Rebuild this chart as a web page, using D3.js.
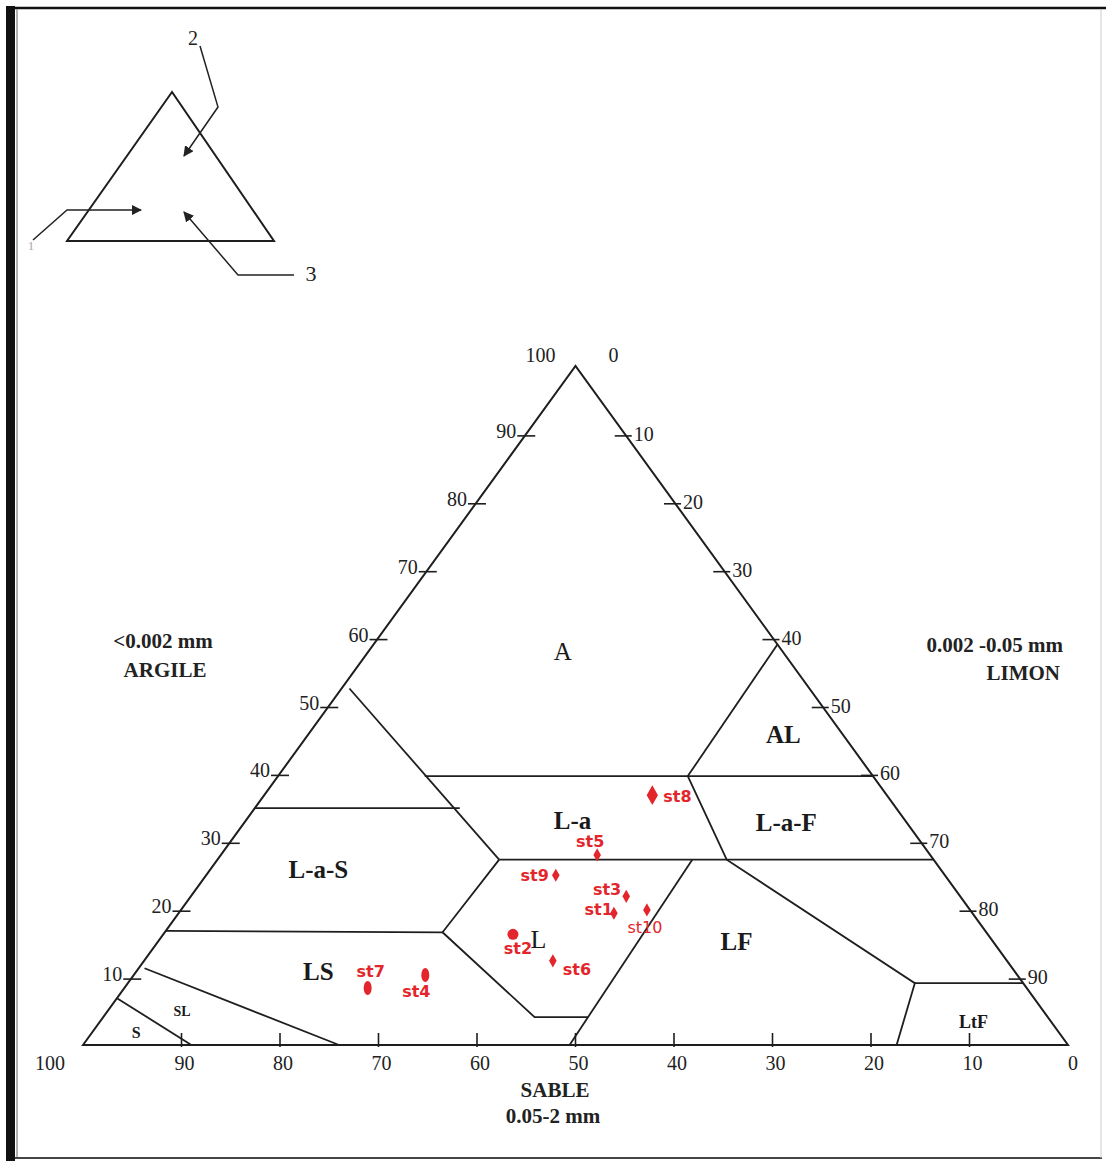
<!DOCTYPE html>
<html>
<head>
<meta charset="UTF-8">
<title>Triangle des textures</title>
<style>
  body { margin: 0; background: #fff; }
  svg { display: block; }
  .edge { fill: none; stroke: #1e1e1e; stroke-width: 2px; }
  .zone { fill: none; stroke: #1e1e1e; stroke-width: 1.8px; }
  .tick { stroke: #1e1e1e; stroke-width: 1.6px; }
  .tlabel { font-family: "Liberation Serif", "Times New Roman", serif; font-size: 20px; fill: #222; }
  .title { font-family: "Liberation Serif", "Times New Roman", serif; font-size: 21px; font-weight: bold; fill: #222; }
  .rlabel { font-family: "Liberation Serif", "Times New Roman", serif; font-weight: bold; fill: #1a1a1a; }
  .st { font-family: "DejaVu Sans", sans-serif; font-size: 16px; font-weight: bold; fill: #e3262c; }
</style>
</head>
<body>
<svg width="1106" height="1163"></svg>
<script src="https://cdn.jsdelivr.net/npm/d3@7"></script>
<script>
// ---- data ----
var tickValues = [10, 20, 30, 40, 50, 60, 70, 80, 90];
var sandTicks = [100, 90, 80, 70, 60, 50, 40, 30, 20, 10, 0];

// sample stations: clay (argile), silt (limon), sand (sable), in %
var stations = ['st1', 'st2', 'st3', 'st4', 'st5', 'st6', 'st7', 'st8', 'st9', 'st10'];
var stClay = [19.4, 16.3, 21.9, 10.3, 28.0, 12.4, 8.4, 36.8, 25.0, 19.9];
var stSilt = [44.2, 35.5, 44.2, 29.6, 38.2, 41.5, 24.7, 39.4, 35.5, 47.3];
var stSand = [36.4, 48.2, 33.9, 60.1, 33.8, 46.1, 66.9, 23.8, 39.5, 32.8];

// texture class boundaries, as [clay, silt] vertices
var zoneLines = [
  [[52.5, 0.8], [27.3, 28.6]],                          // A / L-a-S diagonal
  [[39.6, 14.9], [39.6, 60.4]],                         // top of L-a, L-a-F
  [[34.9, 0], [34.9, 20.8]],                            // top of L-a-S
  [[27.3, 28.6], [27.3, 72.7]],                         // top of L, LF
  [[27.3, 28.6], [16.6, 28.2], [4.1, 43.8], [4.1, 49.2]], // left/bottom of L
  [[16.8, 0], [16.6, 28.2]],                            // top of LS
  [[0, 49.4], [27.3, 48.2]],                            // L / LF
  [[11.3, 0.6], [0, 26]],                               // LS / SL
  [[6.9, 0], [0, 11]],                                  // SL / S
  [[39.6, 41.6], [59, 41]],                             // A / AL
  [[39.6, 41.6], [27.3, 51.7], [9.1, 79.9], [0, 82.6]], // L-a / L-a-F, LF / LtF
  [[9.1, 79.9], [9.1, 90.9]]                            // top of LtF
];

var zoneNames = ['A', 'AL', 'L-a', 'L-a-F', 'L-a-S', 'L', 'LF', 'LS', 'SL', 'S', 'LtF'];
var zoneClay  = [58.0, 45.8, 33.0, 32.8, 25.8, 15.5, 15.3, 10.8, 4.9, 1.8, 3.4];
var zoneSilt  = [19.7, 48.2, 33.2, 55.0, 11.0, 38.5, 58.7, 18.5, 7.6, 4.5, 88.7];

// ---- layout ----
var svg = d3.select('svg');
var baseY = 1045, apexY = 366, leftX = 83, rightX = 1068;
var yClay = d3.scaleLinear().domain([0, 100]).range([baseY, apexY]);
var xSpan = d3.scaleLinear().domain([0, 100]).range([leftX, rightX]);

function px(clay, silt) { return [xSpan(silt + clay / 2), yClay(clay)]; }

var zoneStyle = {
  'A': { size: 25, weight: 'normal' }, 'AL': { size: 25 }, 'L-a': { size: 25 },
  'L-a-F': { size: 25 }, 'L-a-S': { size: 25 }, 'L': { size: 26, weight: 'normal' },
  'LF': { size: 25 }, 'LS': { size: 25 }, 'SL': { size: 14 }, 'S': { size: 16 }, 'LtF': { size: 18 }
};

// label placement for stations: [dx, dy, anchor, weight]
var stLabel = {
  st1: [-1, 2, 'end', 'bold'], st2: [5, 20, 'middle', 'bold'], st3: [-5, -1, 'end', 'bold'],
  st4: [-9, 22, 'middle', 'bold'], st5: [-7, -8, 'middle', 'bold'], st6: [10, 14, 'start', 'bold'],
  st7: [3, -11, 'middle', 'bold'], st8: [11, 7, 'start', 'bold'], st9: [-7, 6, 'end', 'bold'],
  st10: [-2, 23, 'middle', 'normal']
};

// ---- frame ----
svg.append('rect').attr('x', 6).attr('y', 6).attr('width', 9).attr('height', 1155).attr('fill', '#111');
svg.append('line').attr('x1', 6).attr('x2', 1106).attr('y1', 8).attr('y2', 8).attr('stroke', '#111').attr('stroke-width', 2.5);
svg.append('line').attr('x1', 17).attr('x2', 17).attr('y1', 9).attr('y2', 1158).attr('stroke', '#999').attr('stroke-width', 1.5);
svg.append('line').attr('x1', 15).attr('x2', 1102).attr('y1', 1158).attr('y2', 1158).attr('stroke', '#444').attr('stroke-width', 2);
svg.append('line').attr('x1', 1101).attr('x2', 1101).attr('y1', 9).attr('y2', 1158).attr('stroke', '#ccc').attr('stroke-width', 1);

// ---- inset key ----
var defs = svg.append('defs');
defs.append('marker').attr('id', 'head').attr('viewBox', '0 0 10 10').attr('refX', 9).attr('refY', 5)
  .attr('markerWidth', 7).attr('markerHeight', 7).attr('orient', 'auto-start-reverse')
  .append('path').attr('d', 'M0,0 L10,5 L0,10 z').attr('fill', '#222');

var inset = svg.append('g');
inset.append('path').attr('d', 'M172,92 L67,241 L274,241 Z').attr('class', 'edge');
var line = d3.line();
[[[200, 46], [218, 107], [184, 156]],
 [[33, 240], [67, 210], [141, 210]],
 [[294, 275], [238, 275], [184, 212]]].forEach(function (p) {
  inset.append('path').attr('d', line(p)).attr('fill', 'none').attr('stroke', '#222')
    .attr('stroke-width', 1.5).attr('marker-end', 'url(#head)');
});
inset.append('text').attr('class', 'tlabel').attr('x', 193).attr('y', 45).attr('text-anchor', 'middle').text('2');
inset.append('text').attr('class', 'tlabel').attr('x', 311).attr('y', 281).attr('text-anchor', 'middle').style('font-size', '22px').text('3');
inset.append('text').attr('class', 'tlabel').attr('x', 31).attr('y', 250).attr('text-anchor', 'middle').style('font-size', '13px').style('fill', '#aaa').text('1');

// ---- main triangle ----
var g = svg.append('g');
g.append('path').attr('class', 'edge')
  .attr('d', line([px(0, 0), px(100, 0), px(0, 100)]) + 'Z');

g.selectAll('path.zone').data(zoneLines).enter().append('path')
  .attr('class', 'zone')
  .attr('d', function (d) { return line(d.map(function (p) { return px(p[0], p[1]); })); });

// left axis: argile
tickValues.forEach(function (v) {
  var p = px(v, 0);
  g.append('line').attr('class', 'tick').attr('x1', p[0] - 9).attr('x2', p[0] + 9).attr('y1', p[1] + 2).attr('y2', p[1] + 2);
  g.append('text').attr('class', 'tlabel').attr('x', p[0] - 10).attr('y', p[1] + 4)
    .attr('text-anchor', 'end').text(v);
});
// right axis: limon
tickValues.forEach(function (v) {
  var p = px(100 - v, v);
  g.append('line').attr('class', 'tick').attr('x1', p[0] - 10).attr('x2', p[0] + 7).attr('y1', p[1] + 2).attr('y2', p[1] + 2);
  g.append('text').attr('class', 'tlabel').attr('x', p[0] + 9).attr('y', p[1] + 7)
    .attr('text-anchor', 'start').text(v);
});
// apex labels
var apex = px(100, 0);
g.append('text').attr('class', 'tlabel').attr('x', apex[0] - 20).attr('y', apex[1] - 4).attr('text-anchor', 'end').text('100');
g.append('text').attr('class', 'tlabel').attr('x', apex[0] + 38).attr('y', apex[1] - 4).attr('text-anchor', 'middle').text('0');

// bottom axis: sable
sandTicks.forEach(function (v) {
  var p = px(0, 100 - v);
  if (v > 0 && v < 100) {
    g.append('line').attr('class', 'tick').attr('x1', p[0]).attr('x2', p[0]).attr('y1', p[1] - 12).attr('y2', p[1] + 2);
  }
  var dx = v === 100 ? -33 : (v === 0 ? 5 : 3);
  g.append('text').attr('class', 'tlabel').attr('x', p[0] + dx).attr('y', p[1] + 25)
    .attr('text-anchor', 'middle').text(v);
});

// axis titles
g.append('text').attr('class', 'title').attr('x', 163).attr('y', 648).attr('text-anchor', 'middle').text('<0.002 mm');
g.append('text').attr('class', 'title').attr('x', 165).attr('y', 677).attr('text-anchor', 'middle').text('ARGILE');
g.append('text').attr('class', 'title').attr('x', 1063).attr('y', 652).attr('text-anchor', 'end').text('0.002 -0.05 mm');
g.append('text').attr('class', 'title').attr('x', 1060).attr('y', 680).attr('text-anchor', 'end').text('LIMON');
g.append('text').attr('class', 'title').attr('x', 555).attr('y', 1097).attr('text-anchor', 'middle').text('SABLE');
g.append('text').attr('class', 'title').attr('x', 553).attr('y', 1123).attr('text-anchor', 'middle').text('0.05-2 mm');

// zone names
zoneNames.forEach(function (n, i) {
  var p = px(zoneClay[i], zoneSilt[i]);
  var s = zoneStyle[n];
  g.append('text').attr('class', 'rlabel').attr('x', p[0]).attr('y', p[1])
    .attr('text-anchor', 'middle').attr('dominant-baseline', 'central')
    .style('font-size', s.size + 'px').style('font-weight', s.weight || 'bold').text(n);
});

// ---- stations ----
var red = '#e3262c';
var pts = g.append('g');
stations.forEach(function (n, i) {
  var p = px(stClay[i], stSilt[i]);
  if (n === 'st4' || n === 'st7') {
    pts.append('ellipse').attr('cx', p[0]).attr('cy', p[1]).attr('rx', 4).attr('ry', 7).attr('fill', red);
  } else if (n === 'st2') {
    pts.append('circle').attr('cx', p[0]).attr('cy', p[1]).attr('r', 5.5).attr('fill', red);
  } else {
    pts.append('path').attr('transform', 'translate(' + p[0] + ',' + p[1] + ')')
      .attr('d', d3.symbol().type(d3.symbolDiamond).size(n === 'st8' ? 110 : 50)())
      .attr('fill', red);
  }
  var o = stLabel[n];
  pts.append('text').attr('class', 'st').attr('x', p[0] + o[0]).attr('y', p[1] + o[1])
    .attr('text-anchor', o[2]).style('font-weight', o[3]).text(n);
});
</script>
</body>
</html>
